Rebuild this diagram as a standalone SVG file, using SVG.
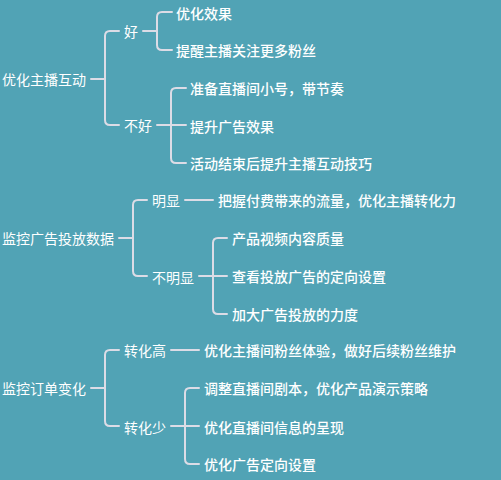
<svg xmlns="http://www.w3.org/2000/svg" width="501" height="480" viewBox="0 0 501 480">
<style>
text{font-family:"Microsoft YaHei","Noto Sans CJK SC","Noto Sans",sans-serif;font-size:14px;fill:#ffffff;dominant-baseline:central}
.l{font-weight:500}
.c{fill:none;stroke:#dcdce6;stroke-width:2;stroke-linecap:round}
</style>
<rect width="501" height="480" fill="#51a3b5"/>
<g id="connectors" class="c">
<path d="M91 79H105M119 31H110Q105 31 105 36V120Q105 125 110 125H119"/>
<path d="M143 31H157M172 12H162Q157 12 157 17V45Q157 50 162 50H172"/>
<path d="M157 125H186M186 88H176Q171 88 171 93V158Q171 163 176 163H186"/>
<path d="M119 238H133M147 200H138Q133 200 133 205V271Q133 276 138 276H147"/>
<path d="M185 200H213"/>
<path d="M199 276H227M227 238H218Q213 238 213 243V309Q213 314 218 314H227"/>
<path d="M91 388H105M119 350H110Q105 350 105 355V421Q105 426 110 426H119"/>
<path d="M171 350H199"/>
<path d="M171 426H199M199 388H190Q185 388 185 393V459Q185 464 190 464H199"/>
</g>
<g id="n1"><text x="2" y="79">优化主播互动</text></g>
<g id="n1a"><text x="124" y="31">好</text></g>
<g id="n1a1"><text class="l" x="176" y="13">优化效果</text></g>
<g id="n1a2"><text class="l" x="176" y="50">提醒主播关注更多粉丝</text></g>
<g id="n1b"><text x="124" y="125">不好</text></g>
<g id="n1b1"><text class="l" x="190" y="88">准备直播间小号，带节奏</text></g>
<g id="n1b2"><text class="l" x="190" y="126">提升广告效果</text></g>
<g id="n1b3"><text class="l" x="190" y="163">活动结束后提升主播互动技巧</text></g>
<g id="n2"><text x="2" y="238">监控广告投放数据</text></g>
<g id="n2a"><text x="152" y="200">明显</text></g>
<g id="n2a1"><text class="l" x="218" y="200">把握付费带来的流量，优化主播转化力</text></g>
<g id="n2b"><text x="152" y="277">不明显</text></g>
<g id="n2b1"><text class="l" x="232" y="238">产品视频内容质量</text></g>
<g id="n2b2"><text class="l" x="232" y="276">查看投放广告的定向设置</text></g>
<g id="n2b3"><text class="l" x="232" y="314">加大广告投放的力度</text></g>
<g id="n3"><text x="2" y="388">监控订单变化</text></g>
<g id="n3a"><text x="124" y="350">转化高</text></g>
<g id="n3a1"><text class="l" x="204" y="350">优化主播间粉丝体验，做好后续粉丝维护</text></g>
<g id="n3b"><text x="124" y="427">转化少</text></g>
<g id="n3b1"><text class="l" x="204" y="388">调整直播间剧本，优化产品演示策略</text></g>
<g id="n3b2"><text class="l" x="204" y="427">优化直播间信息的呈现</text></g>
<g id="n3b3"><text class="l" x="204" y="464">优化广告定向设置</text></g>
</svg>
